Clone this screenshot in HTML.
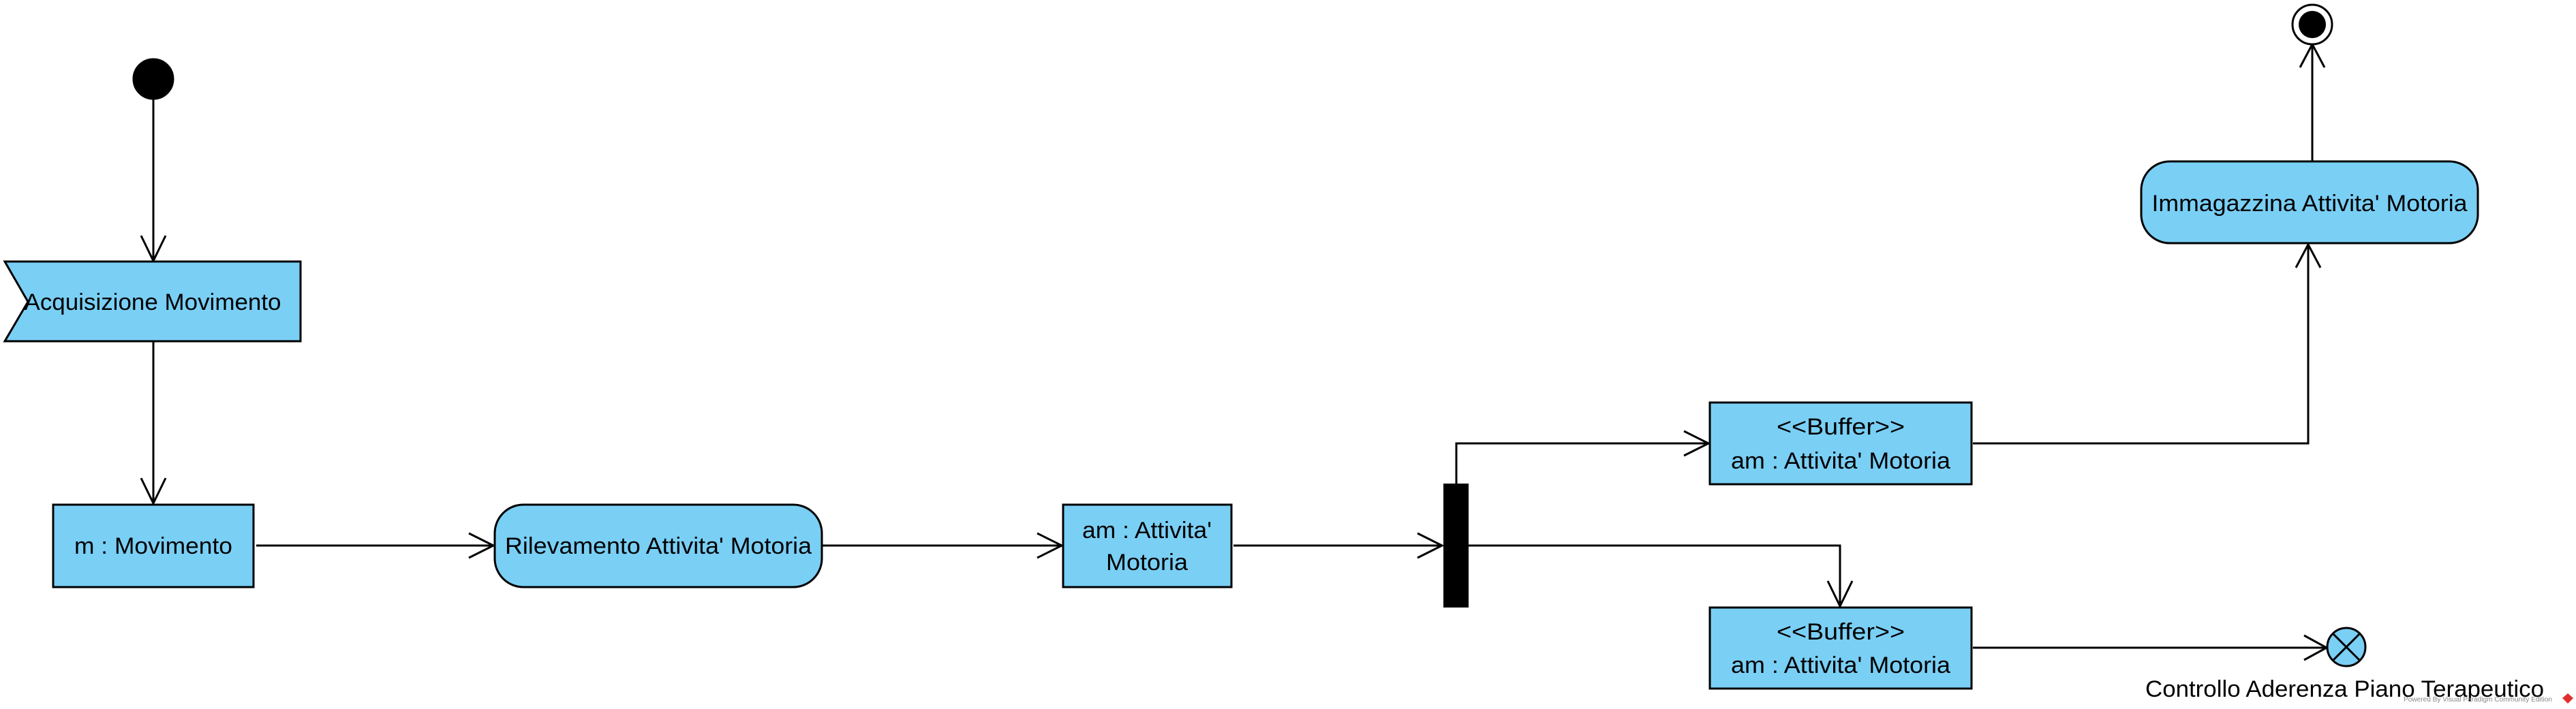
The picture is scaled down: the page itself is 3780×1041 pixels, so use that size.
<!DOCTYPE html>
<html><head><meta charset="utf-8"><style>
html,body{margin:0;padding:0;background:#fff;}
svg{display:block;}
text{font-family:"Liberation Sans",sans-serif;font-size:34px;fill:#000;}
</style></head><body>
<svg width="3780" height="1041" viewBox="0 0 3780 1041" xmlns="http://www.w3.org/2000/svg">
<g stroke="#000" stroke-width="3" fill="none">
<circle cx="225" cy="116" r="29" fill="#000"/>
<line x1="225" y1="146" x2="225" y2="383"/>
<polyline points="207,346 225,383 243,346"/>
<polygon points="7,384 441,384 441,501 7,501 41,443" fill="#7ACFF5"/>
<line x1="225" y1="501" x2="225" y2="739"/>
<polyline points="207,702 225,739 243,702"/>
<rect x="78" y="741" width="294" height="121" fill="#7ACFF5"/>
<line x1="376" y1="801" x2="724" y2="801"/>
<polyline points="688,783 724,801 688,819"/>
<rect x="726" y="741" width="480" height="121" rx="42" fill="#7ACFF5"/>
<line x1="1206" y1="801" x2="1558" y2="801"/>
<polyline points="1522,783 1558,801 1522,819"/>
<rect x="1560" y="741" width="247" height="121" fill="#7ACFF5"/>
<line x1="1810" y1="801" x2="2116" y2="801"/>
<polyline points="2080,783 2116,801 2080,819"/>
<polyline points="2137,710 2137,651 2507,651"/>
<polyline points="2471,633 2507,651 2471,669"/>
<polyline points="2155,801 2700,801 2700,890"/>
<polyline points="2682,853 2700,890 2718,853"/>
<rect x="2509" y="591" width="384" height="120" fill="#7ACFF5"/>
<rect x="2509" y="892" width="384" height="119" fill="#7ACFF5"/>
<polyline points="2895,651 3387,651 3387,359"/>
<polyline points="3369,393 3387,359 3405,393"/>
<rect x="3142" y="237" width="494" height="120" rx="42" fill="#7ACFF5"/>
<line x1="3393" y1="237" x2="3393" y2="65"/>
<polyline points="3375,99 3393,65 3411,99"/>
<circle cx="3393" cy="36" r="29" fill="#fff"/>
<circle cx="3393" cy="36" r="20" fill="#000" stroke="none"/>
<line x1="2895" y1="951" x2="3414" y2="951"/>
<polyline points="3381,933 3414,951 3381,969"/>
<circle cx="3443" cy="950" r="28" fill="#7ACFF5"/>
<line x1="3423" y1="930" x2="3463" y2="970"/>
<line x1="3463" y1="930" x2="3423" y2="970"/>
</g>
<text x="224" y="455" text-anchor="middle" textLength="377" lengthAdjust="spacingAndGlyphs">Acquisizione Movimento</text>
<text x="225" y="813" text-anchor="middle" textLength="232" lengthAdjust="spacingAndGlyphs">m : Movimento</text>
<text x="966" y="813" text-anchor="middle" textLength="450" lengthAdjust="spacingAndGlyphs">Rilevamento Attivita' Motoria</text>
<text x="1683" y="790" text-anchor="middle" textLength="190" lengthAdjust="spacingAndGlyphs">am : Attivita'</text>
<text x="1683" y="837" text-anchor="middle" textLength="120" lengthAdjust="spacingAndGlyphs">Motoria</text>
<text x="2701" y="638" text-anchor="middle" textLength="188" lengthAdjust="spacingAndGlyphs">&lt;&lt;Buffer&gt;&gt;</text>
<text x="2701" y="688" text-anchor="middle" textLength="322" lengthAdjust="spacingAndGlyphs">am : Attivita' Motoria</text>
<text x="2701" y="939" text-anchor="middle" textLength="188" lengthAdjust="spacingAndGlyphs">&lt;&lt;Buffer&gt;&gt;</text>
<text x="2701" y="988" text-anchor="middle" textLength="322" lengthAdjust="spacingAndGlyphs">am : Attivita' Motoria</text>
<text x="3389" y="310" text-anchor="middle" textLength="463" lengthAdjust="spacingAndGlyphs">Immagazzina Attivita' Motoria</text>
<text x="3148" y="1023" textLength="585" lengthAdjust="spacingAndGlyphs">Controllo Aderenza Piano Terapeutico</text>
<text x="3527" y="1030" style="font-size:10px;fill:#888" textLength="218" lengthAdjust="spacingAndGlyphs">Powered By  Visual Paradigm Community Edition</text>
<polygon points="3768,1018 3776,1025 3768,1033 3760,1025" fill="#e03030"/>
<rect x="2118" y="710" width="37" height="182" fill="#000"/>
</svg>
</body></html>
